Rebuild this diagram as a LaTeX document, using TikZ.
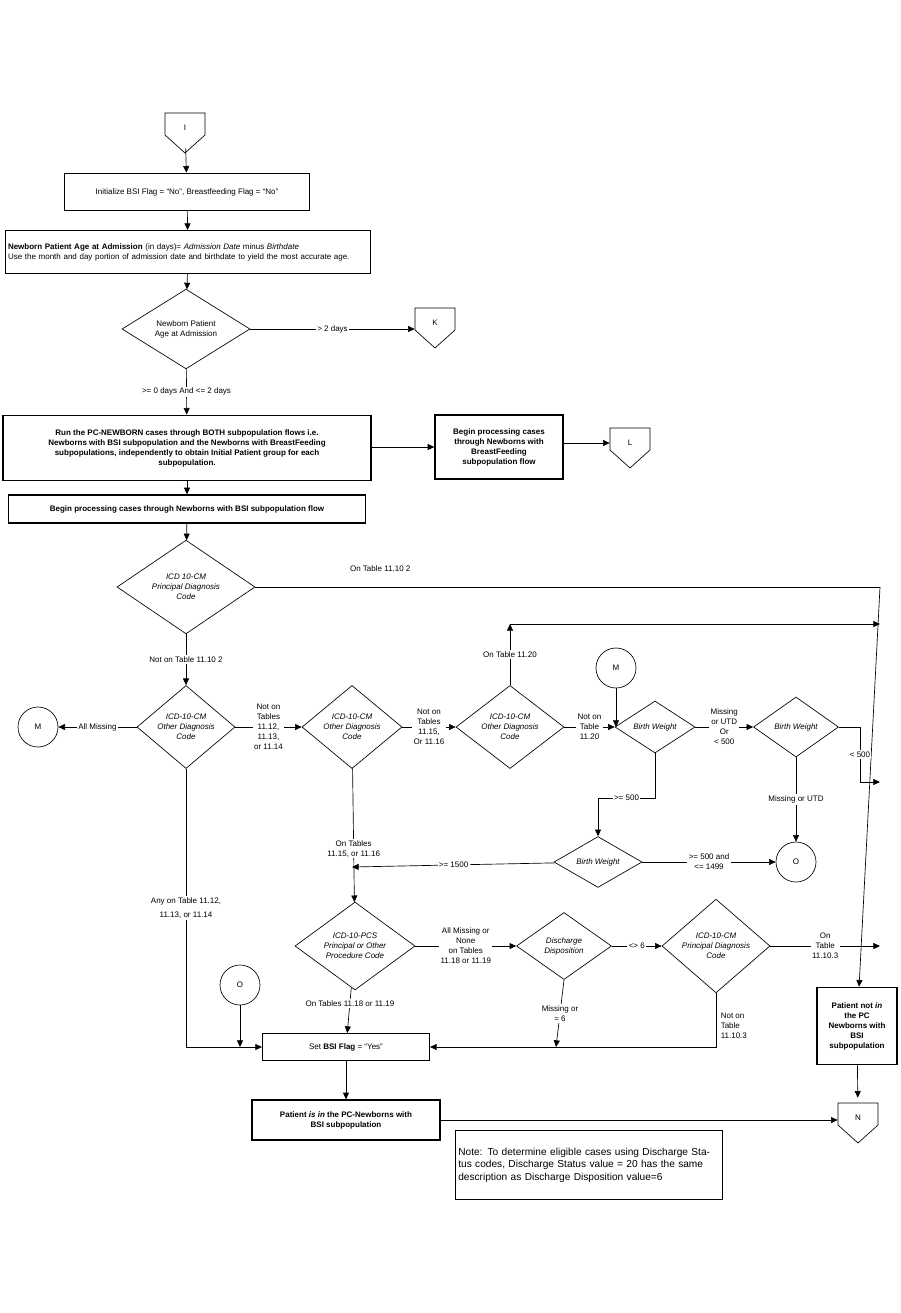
\documentclass[tikz,border=0pt]{standalone}
\usepackage{fontspec}
\setmainfont{Liberation Sans}
\usetikzlibrary{arrows.meta}
\usetikzlibrary{shapes.geometric}
\usetikzlibrary{positioning}

\begin{document}
\begin{tikzpicture}[x=0.75pt,y=-0.75pt,
		font=\fontsize{6}{7.5}\selectfont,
		line width=0.5pt,
		>={Triangle[length=5pt,width=4.5pt]},
		box/.style={draw,line width=1pt,align=center,inner sep=2pt},
		dia/.style 2 args={draw,diamond,inner sep=0pt,minimum width=#1*0.75pt,
			minimum height=#2*0.75pt,align=center,font=\fontsize{6}{7.5}\selectfont\itshape},
		conn/.style={draw,circle,minimum size=30pt,inner sep=0pt},
		lbl/.style={fill=white,align=center,inner sep=1pt}]
		\useasboundingbox (0,0) rectangle (900,1313);
		% off-page connectors
		\newcommand{\offpage}[4]{%
			\draw (#2-20,#3-15) -- (#2+20,#3-15) -- (#2+20,#3+7) -- (#2,#3+25) -- (#2-20,#3+7) -- cycle;
			\node[inner sep=0pt,minimum width=30pt,minimum height=30pt] (#1) at (#2,#3) {#4};}
		\offpage{I}{185}{128}{I}
		\offpage{K}{435}{323}{K}
		\offpage{L}{630}{443}{L}
		\offpage{N}{858}{1118}{N}

		\node[box,minimum width=184pt,minimum height=28pt] (init) at (187,192)
			{Initialize BSI Flag = “No”, Breastfeeding Flag = “No”};
		\node[draw,line width=1pt,text width=270pt,minimum height=32pt,align=left,inner sep=2pt] (age) at (188,252)
			{\textbf{Newborn Patient Age at Admission} (in days)= \textit{Admission Date} minus \textit{Birthdate}\\
			Use the month and day portion of admission date and birthdate to yield the most accurate age.};
		\node[dia={128}{66},font=\fontsize{6}{7.5}\selectfont] (age?) at (186,329) {Newborn Patient\\Age at Admission};
		\node[box,minimum width=276pt,minimum height=49pt,font=\fontsize{6}{7.5}\selectfont\bfseries] (run) at (187,448)
			{Run the PC-NEWBORN cases through BOTH subpopulation flows i.e.\\
			Newborns with BSI subpopulation and the Newborns with BreastFeeding\\
			subpopulations, independently to obtain Initial Patient group for each\\subpopulation.};
		\node[box,minimum width=96pt,minimum height=48pt,font=\fontsize{6}{7.5}\selectfont\bfseries] (bf) at (499,447)
			{Begin processing cases\\through Newborns with\\BreastFeeding\\subpopulation flow};
		\node[box,minimum width=268pt,minimum height=21pt,font=\fontsize{6}{7.5}\selectfont\bfseries] (bsi) at (187,509)
			{Begin processing cases through Newborns with BSI subpopulation flow};

		\node[dia={138}{66}] (pdx) at (186,587) {ICD 10-CM\\Principal Diagnosis\\Code};
		\node[dia={98}{75}] (odx1) at (186,727) {ICD-10-CM\\Other Diagnosis\\Code};
		\node[conn] (M1) at (38,727) {M};
		\node[dia={100}{75}] (odx2) at (352,727) {ICD-10-CM\\Other Diagnosis\\Code};
		\node[dia={108}{67}] (odx3) at (510,727) {ICD-10-CM\\Other Diagnosis\\Code};
		\node[conn] (M2) at (616,668) {M};
		\node[dia={80}{52}] (bw1) at (655,727) {Birth Weight};
		\node[dia={85}{60}] (bw2) at (796,727) {Birth Weight};
		\node[conn] (O1) at (796,862) {O};
		\node[dia={88}{45}] (bw3) at (598,862) {Birth Weight};
		\node[dia={120}{83}] (pcs) at (355,946) {ICD-10-PCS\\Principal or Other\\Procedure Code};
		\node[dia={95}{67}] (disp) at (564,946) {Discharge\\Disposition};
		\node[dia={108}{89}] (pdx2) at (716,946) {ICD-10-CM\\Principal Diagnosis\\Code};
		\node[conn] (O2) at (240,985) {O};
		\node[box,minimum width=125pt,minimum height=20pt] (set) at (346,1047) {Set \textbf{BSI Flag} = “Yes”};
		\node[box,minimum width=141pt,minimum height=30pt,font=\fontsize{6}{7.5}\selectfont\bfseries] (isin) at (346,1120)
			{Patient \textit{is in} the PC-Newborns with\\BSI subpopulation};
		\node[box,minimum width=60pt,minimum height=58pt,font=\fontsize{6}{7.5}\selectfont\bfseries] (notin) at (857,1026)
			{Patient not \textit{in}\\the PC\\Newborns with\\BSI\\subpopulation};
		\node[draw,line width=0.6pt,text width=196pt,minimum height=52pt,align=left,inner sep=2pt,
			font=\fontsize{7.6}{9.4}\selectfont] (note) at (589,1165)
			{Note: To determine eligible cases using Discharge Status codes, Discharge Status value = 20 has the same description as Discharge Disposition value=6};

		\coordinate (rt1) at (880,587);
		\coordinate (rt2) at (880,624);
		\coordinate (rt3) at (880,782);
		\coordinate (rt4) at (880,946);
		\coordinate (j1) at (352,867);
		\coordinate (j2) at (556,1047);
		\coordinate (j3) at (240,1047);

		% connectors
		\draw[->] (I) -- (init);
		\draw[->] (init) -- (age);
		\draw[->] (age) -- (age?);
		\draw[->] (age?) -- node[lbl] {> 2 days} (K.west|-age?);
		\draw[->] (age?) -- node[lbl] {>= 0 days And <= 2 days} (run);
		\draw[->] (run.east|-bf) -- (bf);
		\draw[->] (bf.east|-L) -- (L.west);
		\draw[->] (run) -- (bsi);
		\draw[->] (bsi) -- (pdx);
		\draw (pdx) -- node[pos=0.2,above=8pt] {On Table 11.10 2} (rt1);
		\draw[->] (rt1) -- (notin);
		\draw[->] (pdx) -- node[lbl] {Not on Table 11.10 2} (odx1);
		\draw[->] (odx1) -- node[lbl] {All Missing} (M1);
		\draw[->] (odx1) -- node[lbl] {Not on\\Tables\\11.12,\\11.13,\\or 11.14} (odx2);
		\draw[->] (odx2) -- node[lbl] {Not on\\Tables\\11.15,\\Or 11.16} (odx3);
		\draw[->] (odx3.north) -- node[lbl] {On Table 11.20} (odx3.north|-rt2);
		\draw[->] (odx3.north|-rt2) -- (rt2);
		\draw[->] (odx3) -- node[lbl] {Not on\\Table\\11.20} (bw1);
		\draw[->] (M2) -- (M2|-bw1);
		\draw[->] (bw1) -- node[lbl] {Missing\\or UTD\\Or\\< 500} (bw2);
		\draw[->] (bw2.east) -| node[lbl,pos=0.75] {< 500} (860,782) -- (rt3);
		\draw[->] (bw2) -- node[lbl] {Missing or UTD} (O1);
		\draw[->] (bw1.south) |- node[lbl,pos=0.75] {>= 500} (598,798) -- (bw3.north);
		\draw[->] (bw3) -- node[lbl] {>= 500 and\\<= 1499} (O1);
		\draw[->] (bw3) -- node[lbl] {>= 1500} (j1);
		\draw[->] (odx2) -- node[lbl,pos=0.6] {On Tables\\11.15, or 11.16} (pcs);
		\draw[->] (pcs) -- node[lbl] {All Missing or\\None\\on Tables\\11.18 or 11.19} (disp);
		\draw[->] (disp) -- node[lbl] {<> 6} (pdx2);
		\draw[->] (pdx2) -- node[lbl] {On\\Table\\11.10.3} (rt4);
		\draw[->] (pdx2.south) |- node[right,pos=0.3,align=left] {Not on\\Table\\11.10.3} (set);
		\draw[->] (disp.south) -- node[lbl] {Missing or\\= 6} (j2);
		\draw[->] (O2) -- (j3);
		\draw[->] (odx1) -- node[lbl] {Any on Table 11.12,\\[3pt]11.13, or 11.14} (odx1|-set) -- (set);
		\draw[->] (pcs) -- node[lbl,pos=0.35] {On Tables 11.18 or 11.19} (set);
		\draw[->] (set) -- (isin);
		\draw[->] (isin) -- (N.west|-isin);
		\draw[->] (notin) -- (N);
	\end{tikzpicture}
\end{document}
